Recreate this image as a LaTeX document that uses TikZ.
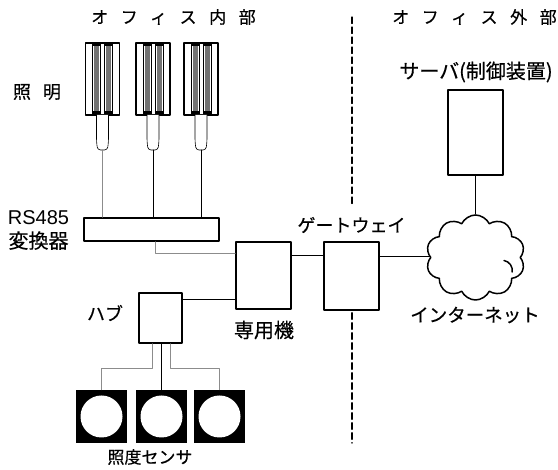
\documentclass[tikz,border=0pt]{standalone}
\usepackage{fontspec}
\setmainfont{Liberation Sans}
\newfontfamily\jp{Noto Sans CJK JP}[FakeBold=0.5]
\newfontfamily\jpwide{Noto Sans CJK JP}[LetterSpace=74,FakeBold=0.5]
\usepackage{tikz}
\usetikzlibrary{arrows.meta,shapes,positioning}
\usetikzlibrary{calc,shapes.symbols}
\definecolor{tubegray}{gray}{0.45}
\definecolor{wiregray}{gray}{0.55}
\newcommand{\drawLamp}[2]{
    \begin{scope}[shift={(#2,0)}]
        \node[lampbox] (#1) at (0,79) {};
        \foreach \s in {-1,1} {
            \draw[fill=white,line width=0.5pt] (\s*1.8,44) rectangle (\s*10.2,114);
            \fill[tubegray] (\s*3.5,46) rectangle (\s*8.5,112);
            \fill[black] (\s*1.5,43) rectangle (\s*10.5,46.5);
            \fill[black] (\s*1.5,111.5) rectangle (\s*10.5,115);
        }
        \draw[line width=0.6pt,rounded corners=3pt,fill=white] (-6,115) -- (-6,141) -- (-5,150) -- (5,150) -- (6,141) -- (6,115);
        \coordinate (#1-plug) at (0,150);
    \end{scope}
}

\begin{document}
\begin{tikzpicture}[x=1pt,y=-1pt,line cap=round,line join=round,
    box/.style={draw,line width=1.6pt,fill=white,inner sep=0},
    lampbox/.style={draw,line width=1.3pt,fill=white,minimum width=34,minimum height=72,inner sep=0},
    sensor/.style={fill=black,minimum width=51,minimum height=53,inner sep=0},
    wire/.style={line width=0.7pt},
    gwire/.style={wire,wiregray},
    divline/.style={line width=1.3pt,dash pattern=on 6.5pt off 3.5pt},
    lbl/.style={font=\jp\fontsize{18}{20}\selectfont,inner sep=0}]
    \useasboundingbox (0,0) rectangle (558,470);

    % --- Headings ---
    \node[lbl,anchor=west,font=\jpwide\fontsize{17}{19}\selectfont] (inLbl) at (91,17) {オフィス内部};
    \node[lbl,anchor=west,font=\jpwide\fontsize{17}{19}\selectfont] (outLbl) at (392,17) {オフィス外部};

    % --- Lamps ---
    \drawLamp{lamp1}{102.5}
    \drawLamp{lamp2}{153}
    \drawLamp{lamp3}{201}
    \node[lbl] (lampLbl) at (37,92) {照\hspace{12pt}明};

    % RS485 converter
    \node[box,minimum width=135,minimum height=23] (conv) at (151.5,229.5) {};
    \node[inner sep=0,align=center,font=\fontsize{20}{24}\selectfont] (convLbl) at (38.5,230) {RS485\\{\jp 変換器}};

    \draw[gwire] (lamp1-plug) -- (lamp1-plug |- conv.north);
    \draw[wire] (lamp2-plug) -- (lamp2-plug |- conv.north);
    \draw[wire] (lamp3-plug) -- (lamp3-plug |- conv.north);

    % --- Devices ---
    \node[box,minimum width=55,minimum height=67] (ded) at (263.5,275.5) {};
    \node[lbl,font=\jp\fontsize{20}{22}\selectfont] (dedLbl) at (264,330) {専用機};
    \node[box,minimum width=55,minimum height=68] (gw) at (351.5,276) {};
    \node[lbl] (gwLbl) at (351.5,225) {ゲートウェイ};
    \node[box,minimum width=55,minimum height=85] (srv) at (475.5,132.5) {};
    \node[lbl,font=\jp\fontsize{20}{22}\selectfont] (srvLbl) at (476,72) {サーバ(制御装置)};
    \node[cloud,draw,line width=1.5pt,fill=white,cloud puffs=10,cloud puff arc=130,aspect=1.16,minimum width=99,minimum height=85,inner sep=0] (net) at (475.5,257.5) {};
    \draw[line width=1.5pt] (net.center) ++(28.5,3) arc[start angle=-80,end angle=10,radius=10];
    \node[lbl,font=\jp\fontsize{18.5}{20}\selectfont] (netLbl) at (475,315) {インターネット};
    \node[box,minimum width=43,minimum height=50] (hub) at (160.5,318) {};
    \node[lbl] (hubLbl) at (105,313) {ハブ};

    \draw[gwire] ([xshift=3.5pt]conv.south) |- ([yshift=22.5pt]ded.west);
    \draw[wire] ([yshift=19pt]hub.east) -- ([yshift=19pt]hub.east -| ded.west);
    \draw[wire] ([yshift=20.5pt]ded.east) -- ([yshift=20.5pt]ded.east -| gw.west);
    \draw[wire] ([yshift=20pt]gw.east) -- ([yshift=20pt]gw.east -| net.west);
    \draw[wire] (srv.south) -- (net.north);

    % --- Sensors ---
    \foreach \x [count=\i] in {101.5,161.5,219.5} {
        \node[sensor] (sen\i) at (\x,416.5) {};
        \fill[white] (sen\i) circle[radius=21];
    }
    \node[lbl,font=\jp\fontsize{17}{19}\selectfont] (senLbl) at (150,457) {照度センサ};

    \draw[gwire] ([xshift=-8.5pt]hub.south) -- ++(0,25) -| (sen1.north);
    \draw[wire] (hub.south -| sen2.north) -- (sen2.north);
    \draw[gwire] ([xshift=9.5pt]hub.south) -- ++(0,25) -| (sen3.north);

    % Office border
    \coordinate (divTop) at (352,17);
    \coordinate (divBot) at (352,443);
    \draw[divline] (divTop) -- (divTop |- 0,207);
    \draw[divline] (gw.south -| divTop) ++(0,2) -- (divBot);

\end{tikzpicture}
\end{document}
